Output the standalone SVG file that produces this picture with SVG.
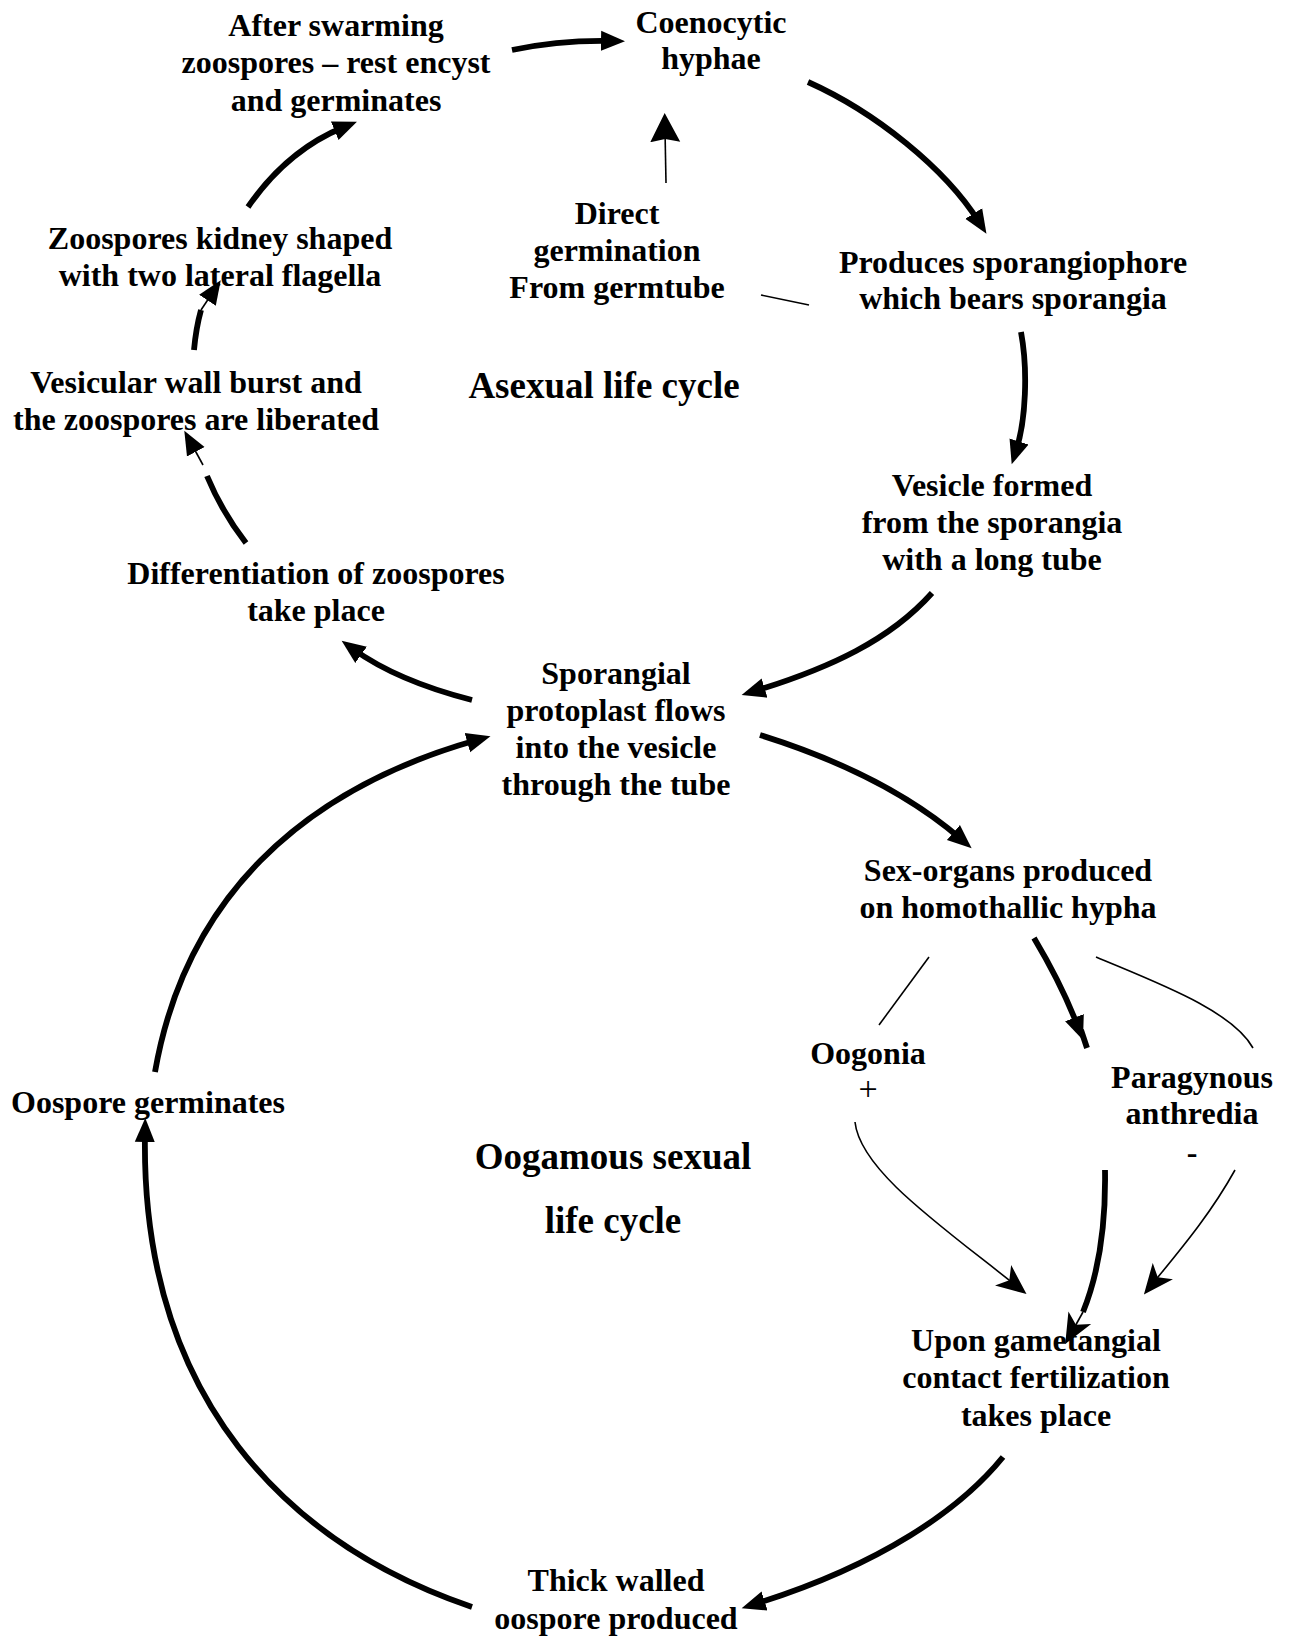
<svg xmlns="http://www.w3.org/2000/svg" width="1292" height="1639" viewBox="0 0 1292 1639">
  <style>
    .lbl { font-family: "Liberation Serif", "Times New Roman", serif; font-weight: bold; font-size: 32px; fill: #000; text-anchor: middle; }
    .title { font-size: 37px; }
    .plain { font-weight: normal; font-size: 34px; }
    .thick { fill: none; stroke: #000; stroke-width: 5.8; }
    .thin { fill: none; stroke: #000; stroke-width: 1.6; }
  </style>
  <defs>
    <!-- solid triangular head; tip sits 14 units past the path end -->
    <marker id="solid" markerUnits="userSpaceOnUse" viewBox="0 -12 26 24" refX="10" refY="0" markerWidth="26" markerHeight="24" orient="auto">
      <path d="M0,-10 L24,0 L0,10 Z" fill="#000"/>
    </marker>
    <!-- narrow head for the germ-tube arrow -->
    <marker id="tall" markerUnits="userSpaceOnUse" viewBox="0 -16 31 32" refX="12" refY="0" markerWidth="31" markerHeight="32" orient="auto">
      <path d="M0,-15 L29,0 L0,15 L3,0 Z" fill="#000"/>
    </marker>
    <!-- barbed head used on the fertilization arrows -->
    <marker id="barb" markerUnits="userSpaceOnUse" viewBox="0 -14 32 28" refX="14" refY="0" markerWidth="32" markerHeight="28" orient="auto">
      <path d="M0,-13 L30,0 L0,13 L8,0 Z" fill="#000"/>
    </marker>
  </defs>

  <rect width="1292" height="1639" fill="#fff"/>

  <g id="connectors">
    <!-- asexual cycle -->
    <path class="thick" d="M512,50 Q560,40 611,41" marker-end="url(#solid)"/>
    <path class="thick" d="M808,82 C875,112 945,168 979,222" marker-end="url(#solid)"/>
    <path class="thick" d="M1021,332 C1028,370 1026,420 1016,451" marker-end="url(#solid)"/>
    <path class="thick" d="M932,593 C890,640 830,668 755,691" marker-end="url(#solid)"/>
    <path class="thick" d="M472,700 C425,688 385,672 353,649" marker-end="url(#solid)"/>
    <path class="thick" d="M246,543 Q222,512 207,476"/>
    <path class="thin" d="M203,465 L191,443" marker-end="url(#solid)"/>
    <path class="thick" d="M194,350 Q196,328 201,310"/>
    <path class="thin" d="M201,310 L213,292" marker-end="url(#solid)"/>
    <path class="thick" d="M248,207 C270,175 300,145 344,127" marker-end="url(#solid)"/>
    <path class="thin" d="M666,183 L665,130" marker-end="url(#tall)"/>
    <path class="thin" d="M761,295 L809,305"/>
    <!-- link into the sexual cycle -->
    <path class="thick" d="M760,735 C840,760 910,795 961,839" marker-end="url(#solid)"/>
    <path class="thick" d="M155,1072 C185,900 300,790 477,740" marker-end="url(#solid)"/>
    <!-- sexual cycle -->
    <path class="thick" d="M472,1607 C290,1545 140,1400 145,1132" marker-end="url(#solid)"/>
    <path class="thick" d="M1003,1457 C960,1510 880,1565 755,1604" marker-end="url(#solid)"/>
    <path class="thick" d="M1034,938 Q1062,985 1078,1027" marker-end="url(#solid)"/>
    <path class="thick" d="M1081,1030 L1087,1048"/>
    <path class="thin" d="M929,957 L879,1025"/>
    <path class="thin" d="M1096,957 C1155,982 1232,1010 1253,1048"/>
    <path class="thin" d="M855,1122 C860,1170 940,1225 1014,1284" marker-end="url(#barb)"/>
    <path class="thin" d="M1235,1170 C1210,1215 1180,1250 1154,1282" marker-end="url(#barb)"/>
    <path class="thick" d="M1105,1170 C1106,1230 1098,1275 1083,1312"/>
    <path class="thin" d="M1083,1312 L1073,1330" marker-end="url(#barb)"/>
  </g>

  <g id="after-swarming">
    <text class="lbl" x="336" y="36">After swarming</text>
    <text class="lbl" x="336" y="73">zoospores – rest encyst</text>
    <text class="lbl" x="336" y="111">and germinates</text>
  </g>
  <g id="coenocytic-hyphae">
    <text class="lbl" x="711" y="33">Coenocytic</text>
    <text class="lbl" x="711" y="69">hyphae</text>
  </g>
  <g id="direct-germination">
    <text class="lbl" x="617" y="224">Direct</text>
    <text class="lbl" x="617" y="261">germination</text>
    <text class="lbl" x="617" y="298">From germtube</text>
  </g>
  <g id="zoospores-kidney">
    <text class="lbl" x="220" y="249">Zoospores kidney shaped</text>
    <text class="lbl" x="220" y="286">with two lateral flagella</text>
  </g>
  <g id="sporangiophore">
    <text class="lbl" x="1013" y="273">Produces sporangiophore</text>
    <text class="lbl" x="1013" y="309">which bears sporangia</text>
  </g>
  <g id="vesicular-wall">
    <text class="lbl" x="196" y="393">Vesicular wall burst and</text>
    <text class="lbl" x="196" y="430">the zoospores are liberated</text>
  </g>
  <g id="asexual-title">
    <text class="lbl title" x="604" y="398">Asexual life cycle</text>
  </g>
  <g id="vesicle-formed">
    <text class="lbl" x="992" y="496">Vesicle formed</text>
    <text class="lbl" x="992" y="533">from the sporangia</text>
    <text class="lbl" x="992" y="570">with a long tube</text>
  </g>
  <g id="differentiation">
    <text class="lbl" x="316" y="584">Differentiation of zoospores</text>
    <text class="lbl" x="316" y="621">take place</text>
  </g>
  <g id="sporangial-protoplast">
    <text class="lbl" x="616" y="684">Sporangial</text>
    <text class="lbl" x="616" y="721">protoplast flows</text>
    <text class="lbl" x="616" y="758">into the vesicle</text>
    <text class="lbl" x="616" y="795">through the tube</text>
  </g>
  <g id="oospore-germinates">
    <text class="lbl" x="148" y="1113">Oospore germinates</text>
  </g>
  <g id="sex-organs">
    <text class="lbl" x="1008" y="881">Sex-organs produced</text>
    <text class="lbl" x="1008" y="918">on homothallic hypha</text>
  </g>
  <g id="oogonia">
    <text class="lbl" x="868" y="1064">Oogonia</text>
    <text class="lbl plain" x="868" y="1100">+</text>
  </g>
  <g id="antheridia">
    <text class="lbl" x="1192" y="1088">Paragynous</text>
    <text class="lbl" x="1192" y="1124">anthredia</text>
    <text class="lbl" x="1192" y="1163">-</text>
  </g>
  <g id="sexual-title">
    <text class="lbl title" x="613" y="1169">Oogamous sexual</text>
    <text class="lbl title" x="613" y="1233">life cycle</text>
  </g>
  <g id="oospore-produced">
    <text class="lbl" x="616" y="1591">Thick walled</text>
    <text class="lbl" x="616" y="1629">oospore produced</text>
  </g>
  <g id="fertilization">
    <text class="lbl" x="1036" y="1351">Upon gametangial</text>
    <text class="lbl" x="1036" y="1388">contact fertilization</text>
    <text class="lbl" x="1036" y="1426">takes place</text>
  </g>
</svg>
